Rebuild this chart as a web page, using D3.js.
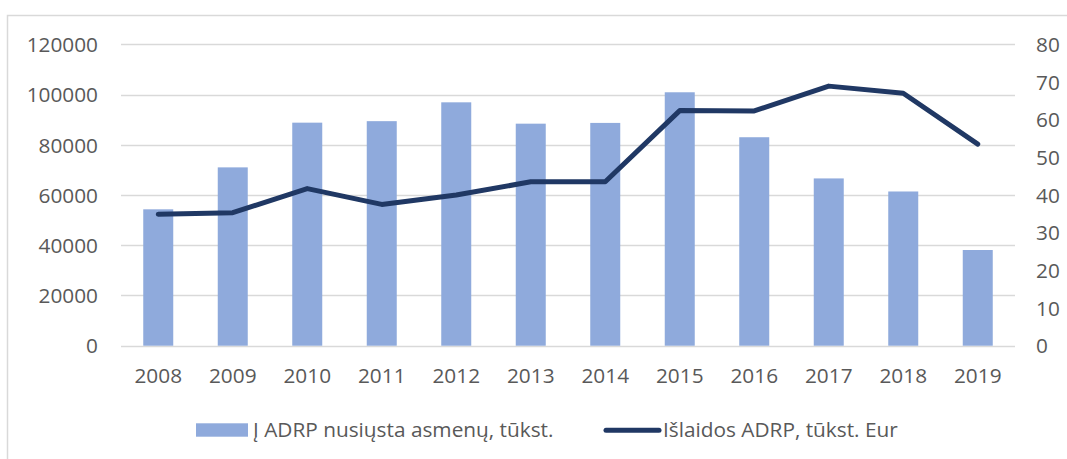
<!DOCTYPE html>
<html>
<head>
<meta charset="utf-8">
<script src="https://cdn.jsdelivr.net/npm/d3@7/dist/d3.min.js"></script>
<style>
html,body{margin:0;padding:0;background:#fff;}
svg{display:block;}
text{font-family:"Open Sans","Noto Sans",sans-serif;fill:#595959;}
</style>
</head>
<body>
<svg id="chart" width="1067" height="459"></svg>
<script>
const years = ["2008","2009","2010","2011","2012","2013","2014","2015","2016","2017","2018","2019"];
const persons = [54300, 71000, 88800, 89400, 96900, 88400, 88700, 100900, 83000, 66600, 61400, 38100];
const spending = [34.9, 35.3, 41.7, 37.5, 40.0, 43.5, 43.5, 62.4, 62.3, 68.9, 67.0, 53.5];
const leftTicks = [0, 20000, 40000, 60000, 80000, 100000, 120000];
const rightTicks = [0, 10, 20, 30, 40, 50, 60, 70, 80];
const seriesNames = ["Į ADRP nusiųsta asmenų, tūkst.", "Išlaidos ADRP, tūkst. Eur"];

const barColor = "#8FAADC", lineColor = "#203864", gridColor = "#D9D9D9";
const fs = "20.8px";
const svg = d3.select("#chart");

// outer frame
svg.append("rect").attr("x",7.5).attr("y",15.5).attr("width",1080).attr("height",460)
  .attr("fill","none").attr("stroke",gridColor).attr("stroke-width",1.5);

const x = d3.scaleBand().domain(years).range([121, 1015]).paddingInner(0.6).paddingOuter(0.3);
const yL = d3.scaleLinear().domain([0,120000]).range([345.7, 44.3]);
const yR = d3.scaleLinear().domain([0,80]).range([345.7, 44.3]);

// gridlines
svg.append("g").selectAll("line").data(leftTicks).join("line")
  .attr("x1",121).attr("x2",1015)
  .attr("y1",d=>Math.round(yL(d))+0.5).attr("y2",d=>Math.round(yL(d))+0.5)
  .attr("stroke",gridColor).attr("stroke-width",1.6);

// left axis
const axL = d3.axisLeft(yL).tickValues(leftTicks).tickSize(0).tickPadding(0).tickFormat(d3.format("d"));
const gL = svg.append("g").attr("transform","translate(98,0)").call(axL);
gL.select(".domain").remove();
gL.selectAll("text").style("font-size",fs).attr("fill","#595959").attr("dy","0.35em");

// right axis
const axR = d3.axisRight(yR).tickValues(rightTicks).tickSize(0).tickPadding(0).tickFormat(d3.format("d"));
const gR = svg.append("g").attr("transform","translate(1036,0)").call(axR);
gR.select(".domain").remove();
gR.selectAll("text").style("font-size",fs).attr("fill","#595959").attr("dy","0.35em");

// bars
svg.append("g").selectAll("rect").data(years).join("rect")
  .attr("x",(d)=>x(d)+x.bandwidth()/2-15)
  .attr("width",30)
  .attr("y",(d,i)=>yL(persons[i]))
  .attr("height",(d,i)=>yL(0)-yL(persons[i]))
  .attr("fill",barColor);

// line
const line = d3.line().x((d,i)=>x(years[i])+x.bandwidth()/2).y(d=>yR(d));
svg.append("path").datum(spending).attr("d",line).attr("fill","none")
  .attr("stroke",lineColor).attr("stroke-width",5).attr("stroke-linecap","round").attr("stroke-linejoin","round");

// x axis
const axX = d3.axisBottom(x).tickSize(0).tickPadding(0);
const gX = svg.append("g").attr("transform","translate(0,376)").call(axX);
gX.select(".domain").remove();
gX.selectAll("text").style("font-size",fs).attr("fill","#595959").attr("dy","0.35em");

// legend
const lg = svg.append("g");
lg.append("rect").attr("x",196).attr("y",423.3).attr("width",52).attr("height",13.4).attr("fill",barColor);
lg.append("text").attr("x",253).attr("y",430).attr("dy","0.35em").style("font-size",fs).text(seriesNames[0]);
lg.append("line").attr("x1",606).attr("x2",659).attr("y1",430.3).attr("y2",430.3)
  .attr("stroke",lineColor).attr("stroke-width",5).attr("stroke-linecap","round");
lg.append("text").attr("x",663).attr("y",430).attr("dy","0.35em").style("font-size",fs).text(seriesNames[1]);
</script>
</body>
</html>
